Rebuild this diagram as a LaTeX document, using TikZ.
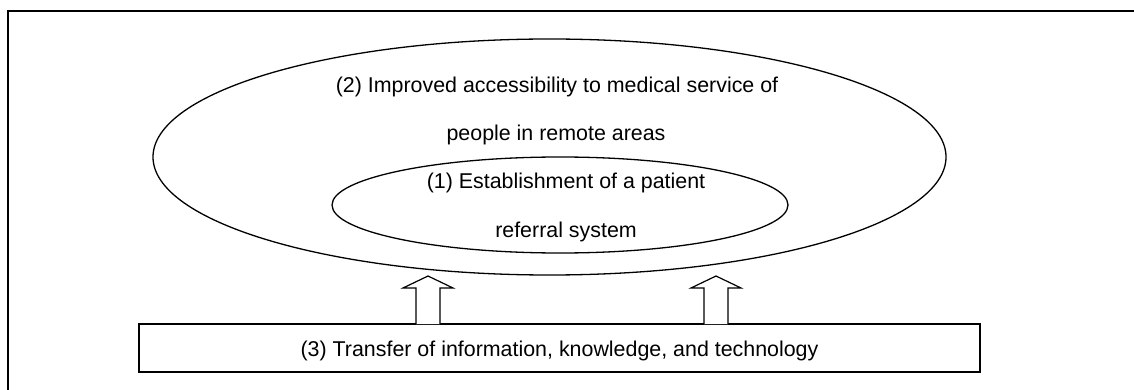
\documentclass[tikz,border=0pt]{standalone}
\usepackage{fontspec}
\setmainfont{Liberation Sans}
\usetikzlibrary{calc}
\begin{document}
\begin{tikzpicture}[x=1pt,y=-1pt,
  outline/.style={draw=black,line width=1.3pt},
  label/.style={font=\fontsize{21.4}{25}\selectfont,inner sep=0pt},
  fatarrow/.style={draw=black,line width=1.2pt,fill=white,line join=miter}]
  \useasboundingbox (0,0) rectangle (1134,390);
  \clip (0,0) rectangle (1134,390);
  % surrounding frame (open to the right and below)
  \draw[line width=1.6pt] (8,11) rectangle (1160,420);
  % outer and inner goals
  \draw[outline] (549.5,157) ellipse [x radius=396.5, y radius=118];
  \draw[outline] (560,205) ellipse [x radius=228, y radius=48];
  \node[label] (goal2a) at (557,87) {(2) Improved accessibility to medical service of};
  \node[label] (goal2b) at (556,135) {people in remote areas};
  \node[label] (goal1a) at (566,183) {(1) Establishment of a patient};
  \node[label] (goal1b) at (566,232) {referral system};
  % base box
  \node[draw=black,line width=1.3pt,minimum width=841pt,minimum height=48pt,inner sep=0pt]
    (base) at (559.5,348) {};
  \node[label] (basetxt) at (559.5,351) {(3) Transfer of information, knowledge, and technology};
  % hollow block arrows rising from the base box
  \foreach \cx/\nm in {428/la, 716/ra}{
    \coordinate (\nm) at (\cx,324);
    \draw[fatarrow] ($(\nm)+(-12,0)$) -- ++(0,-36) -- ++(-13,0) -- ++(25,-12)
      -- ++(25,12) -- ++(-13,0) -- ++(0,36);
  }
\end{tikzpicture}
\end{document}
